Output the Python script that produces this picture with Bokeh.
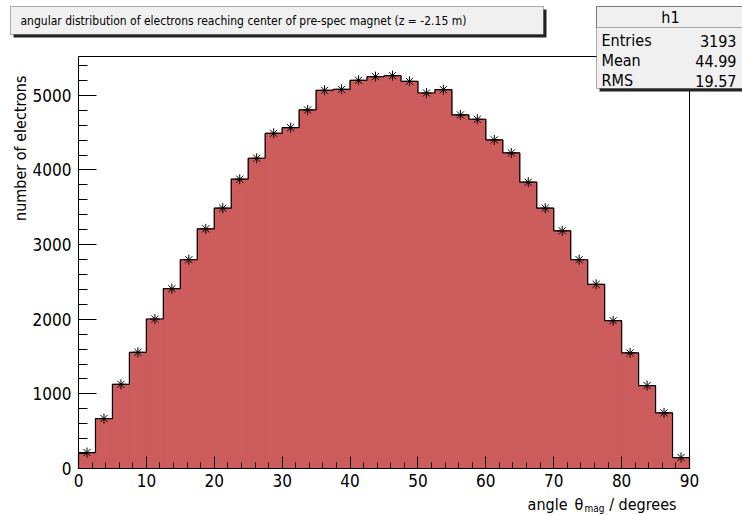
import math
from bokeh.plotting import figure
from bokeh.models import BoxAnnotation, Label, SingleIntervalTicker, Range1d, LinearAxis
from bokeh.embed import file_html
from bokeh.resources import INLINE

# ---------------- data ----------------
bin_edges = [0, 2.5, 5, 7.5, 10, 12.5, 15, 17.5, 20, 22.5, 25, 27.5, 30, 32.5,
             35, 37.5, 40, 42.5, 45, 47.5, 50, 52.5, 55, 57.5, 60, 62.5, 65,
             67.5, 70, 72.5, 75, 77.5, 80, 82.5, 85, 87.5, 90]
counts = [214, 669, 1128, 1557, 2003, 2409, 2797, 3211, 3488, 3876, 4157, 4491,
          4567, 4804, 5067, 5080, 5201, 5250, 5263, 5187, 5031, 5076, 4737, 4679,
          4402, 4228, 3836, 3488, 3185, 2797, 2467, 1980, 1548, 1111, 745, 147]
title_text = "angular distribution of electrons reaching center of pre-spec magnet (z = -2.15 m)"
hist_name = "h1"
stat_names = ["Entries", "Mean", "RMS"]
stat_values = ["3193", "44.99", "19.57"]
y_label = "number of electrons"
x_label_word = "angle"
x_label_sym = "\u03b8"
x_label_sub = "mag"
x_label_tail = "/ degrees"
x_min, x_max = 0, 90
y_min, y_max = 0, 5520

centers = [(a + b) / 2 for a, b in zip(bin_edges[:-1], bin_edges[1:])]

# ---------------- layout ----------------
W, H = 742, 515
FL, FR, FT, FB = 78, 689, 56, 468          # plot-area box in canvas pixels
FONT = "DejaVu Sans Condensed, Roboto"
FILL = "#cd5c5c"

# data ranges chosen so that the plot area (x_min..x_max, y_min..y_max) lands on the box above
kx = (FR - FL) / (x_max - x_min)
ky = (FB - FT) / (y_max - y_min)
xr = Range1d(x_min - FL / kx, x_max + (W - FR) / kx)
yr = Range1d(y_min - (H - FB) / ky, y_max + FT / ky)


def sx(cx):
    return cx


def sy(cy):
    return H - cy


p = figure(width=W, height=H, x_range=xr, y_range=yr,
           output_backend="svg", toolbar_location=None,
           min_border=0, x_axis_location=None, y_axis_location=None)
p.title.visible = False
p.xgrid.visible = False
p.ygrid.visible = False
p.outline_line_color = None
p.background_fill_color = "white"
p.border_fill_color = "white"

# histogram
p.quad(left=bin_edges[:-1], right=bin_edges[1:], top=counts, bottom=0,
       fill_color=FILL, line_color=FILL, line_width=1)
p.step(x=[bin_edges[0]] + bin_edges, y=[0] + counts + [0], mode="after",
       line_color="black", line_width=1.2)
p.scatter(x=centers, y=counts, marker="asterisk", size=10,
          line_color="black", line_width=1)


def style(ax):
    ax.axis_line_color = "black"
    ax.axis_line_width = 1
    ax.major_tick_line_color = "black"
    ax.minor_tick_line_color = "black"
    ax.major_tick_out = 0
    ax.minor_tick_out = 0
    ax.major_label_text_font = FONT
    ax.major_label_text_font_size = "17px"
    ax.major_label_text_color = "black"


xaxis = LinearAxis(fixed_location=y_min, bounds=(x_min, x_max),
                   ticker=SingleIntervalTicker(interval=10, num_minor_ticks=5))
style(xaxis)
xaxis.major_tick_in = 12
xaxis.minor_tick_in = 6
xaxis.major_label_standoff = 5
p.add_layout(xaxis, "below")

yaxis = LinearAxis(fixed_location=x_min, bounds=(y_min, y_max),
                   ticker=SingleIntervalTicker(interval=1000, num_minor_ticks=5))
style(yaxis)
yaxis.major_tick_in = 18
yaxis.minor_tick_in = 9
yaxis.major_label_standoff = 7
p.add_layout(yaxis, "left")

# top and right frame edges
for loc, side, bnds in ((y_max, "above", (x_min, x_max)), (x_max, "right", (y_min, y_max))):
    fa = LinearAxis(fixed_location=loc, bounds=bnds)
    fa.axis_line_color = "black"
    fa.major_tick_line_color = None
    fa.minor_tick_line_color = None
    fa.major_label_text_font_size = "0px"
    fa.major_label_text_alpha = 0
    p.add_layout(fa, side)

S = dict(left_units="screen", right_units="screen", top_units="screen", bottom_units="screen")

# title box
p.add_layout(BoxAnnotation(left=sx(13), right=sx(546), top=sy(9), bottom=sy(37),
                           fill_color="#222222", fill_alpha=1, line_color=None, **S))
p.add_layout(BoxAnnotation(left=sx(10), right=sx(543), top=sy(6), bottom=sy(34),
                           fill_color="#f0f0f0", fill_alpha=1, line_color="black",
                           line_width=1, **S))
p.add_layout(Label(x=sx(20), y=sy(20), text=title_text, x_units="screen", y_units="screen",
                   text_font=FONT, text_font_size="12px", text_baseline="middle",
                   text_align="left", text_color="black"))

# stats box
p.add_layout(BoxAnnotation(left=sx(599), right=sx(765), top=sy(9), bottom=sy(91),
                           fill_color="#222222", fill_alpha=1, line_color=None, **S))
p.add_layout(BoxAnnotation(left=sx(596), right=sx(762), top=sy(6), bottom=sy(88),
                           fill_color="#f0f0f0", fill_alpha=1, line_color="black",
                           line_width=1, **S))
p.add_layout(BoxAnnotation(left=sx(596), right=sx(762), top=sy(6), bottom=sy(27),
                           fill_alpha=0, line_color="black", line_width=1, **S))
p.add_layout(Label(x=sx(670), y=sy(17), text=hist_name, x_units="screen", y_units="screen",
                   text_font=FONT, text_font_size="16px", text_baseline="middle",
                   text_align="center", text_color="black"))
for i, (n, v) in enumerate(zip(stat_names, stat_values)):
    cy = 40 + 20 * i
    p.add_layout(Label(x=sx(601), y=sy(cy), text=n, x_units="screen", y_units="screen",
                       text_font=FONT, text_font_size="16px", text_baseline="middle",
                       text_align="left", text_color="black"))
    p.add_layout(Label(x=sx(736), y=sy(cy), text=v, x_units="screen", y_units="screen",
                       text_font=FONT, text_font_size="16px", text_baseline="middle",
                       text_align="right", text_color="black"))

# axis titles
p.add_layout(Label(x=sx(20), y=sy(75), text=y_label, x_units="screen", y_units="screen",
                   angle=math.pi / 2, text_font=FONT, text_font_size="16px",
                   text_baseline="middle", text_align="right", text_color="black"))
p.add_layout(Label(x=sx(567), y=sy(504), text=x_label_word, x_units="screen", y_units="screen",
                   text_font=FONT, text_font_size="16px", text_baseline="alphabetic",
                   text_align="right", text_color="black"))
p.add_layout(Label(x=sx(574), y=sy(504), text=x_label_sym, x_units="screen", y_units="screen",
                   text_font=FONT, text_font_size="16px", text_baseline="alphabetic",
                   text_align="left", text_color="black"))
p.add_layout(Label(x=sx(584), y=sy(508), text=x_label_sub, x_units="screen", y_units="screen",
                   text_font=FONT, text_font_size="10px", text_baseline="alphabetic",
                   text_align="left", text_color="black"))
p.add_layout(Label(x=sx(676), y=sy(504), text=x_label_tail, x_units="screen", y_units="screen",
                   text_font=FONT, text_font_size="16px", text_baseline="alphabetic",
                   text_align="right", text_color="black"))

open("out.html", "w").write(file_html(p, INLINE))
